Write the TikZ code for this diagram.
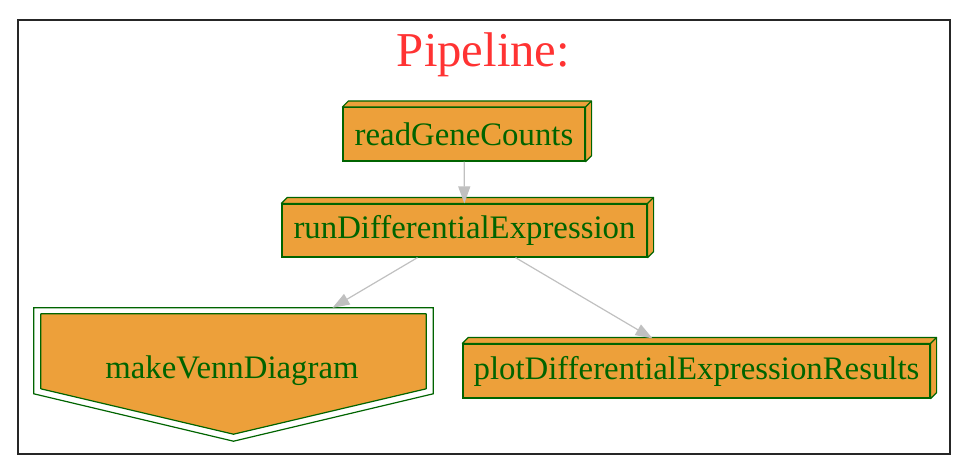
\documentclass[tikz,border=0pt]{standalone}
\usepackage{fontspec}
\setmainfont{Liberation Serif}
\usetikzlibrary{arrows.meta}
\definecolor{stepfill}{HTML}{EDA03A}
\definecolor{stepline}{HTML}{006400}
\definecolor{titlered}{HTML}{FF3333}
\definecolor{edgegray}{HTML}{C0C0C0}
\tikzset{
    stepbox/.style={draw=stepline, fill=stepfill, line width=1.2pt, inner sep=0pt,
        text=stepline, font=\fontsize{32.8}{36}\selectfont},
    stepface/.style={draw=stepline, fill=stepfill, line width=1.2pt, line join=round},
    flow/.style={draw=edgegray, line width=1.2pt,
        -{Triangle[length=17pt, width=12pt, fill=edgegray]}},
}
\begin{document}
\begin{tikzpicture}[x=1pt, y=-1pt]
    \useasboundingbox (0, 0) rectangle (970, 475);
    % Cluster frame with its title
    \draw[line width=1.3pt, draw=black!85] (18, 20) rectangle (950, 454);
    \node[anchor=base, text=titlered, font=\fontsize{48.7}{52}\selectfont] (title) at (483.5, 66.7) {Pipeline:};

    % The three box steps
    \node[stepbox, minimum width=242pt, minimum height=53.5pt] (read) at (464, 134.3) {readGeneCounts};
    \node[stepbox, minimum width=365pt, minimum height=53pt] (run) at (464.5, 230.5) {runDifferentialExpression};
    \node[stepbox, minimum width=467pt, minimum height=54pt] (plot) at (696.5, 371) {plotDifferentialExpressionResults};

    % Top and right faces of every box
    \foreach \n in {read, run, plot} {
        \draw[stepface] (\n.north west) -- ([shift={(6,-6)}]\n.north west)
            -- ([shift={(6,-6)}]\n.north east) -- ([shift={(6,-6)}]\n.south east)
            -- (\n.south east) -- (\n.north east) -- cycle;
        \draw[stepface] (\n.north east) -- ([shift={(6,-6)}]\n.north east);
    }

    % The pointed step, drawn twice (outer and inner line)
    \node[inner sep=0pt, minimum width=399pt, minimum height=133pt, text=stepline,
        font=\fontsize{32.8}{36}\selectfont] (venn) at (233.5, 374.5) {};
    \draw[draw=stepline, line width=1.2pt] (venn.north west) -- (venn.north east)
        -- ([shift={(0,86)}]venn.north east) -- (venn.south)
        -- ([shift={(0,86)}]venn.north west) -- cycle;
    \draw[stepface] ([shift={(7,6)}]venn.north west) -- ([shift={(-7,6)}]venn.north east)
        -- ([shift={(-7,81)}]venn.north east) -- ([shift={(0,-7)}]venn.south)
        -- ([shift={(7,81)}]venn.north west) -- cycle;
    \node[text=stepline, font=\fontsize{32.8}{36}\selectfont, anchor=base] (vennlabel) at (232, 378) {makeVennDiagram};

    % Connectors
    \draw[flow] (read) -- (run);
    \draw[flow] ([shift={(-47,0)}]run.south) -- ([shift={(99,0)}]venn.north);
    \draw[flow] ([shift={(51,0)}]run.south) -- ([shift={(-44,-5)}]plot.north);
\end{tikzpicture}
\end{document}
